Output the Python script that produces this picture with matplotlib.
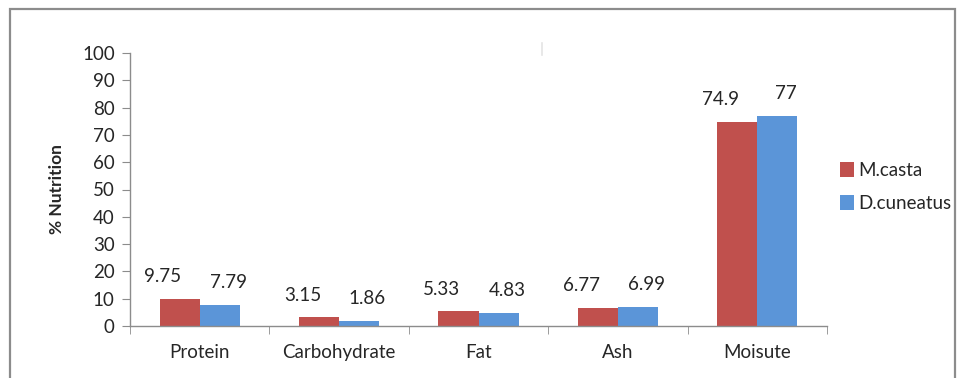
import numpy as np
import matplotlib.pyplot as plt
from matplotlib.patches import Rectangle
from matplotlib.lines import Line2D

categories = ["Protein", "Carbohydrate", "Fat", "Ash", "Moisute"]
m_casta = [9.75, 3.15, 5.33, 6.77, 74.9]
d_cuneatus = [7.79, 1.86, 4.83, 6.99, 77]
series_names = ["M.casta", "D.cuneatus"]
yticks = list(range(0, 101, 10))

red = "#C0504D"
blue = "#5B95D8"
grey = "#8C8C8C"
txt = "#262626"
fs = 13.5

plt.rcParams['font.family'] = ['Lato', 'DejaVu Sans']

fig = plt.figure(figsize=(9.64, 3.78), dpi=100)
ax = fig.add_axes([130 / 964, 1 - 326 / 378, 697 / 964, 273 / 378])

x = np.arange(len(categories))
w = 0.287
b1 = ax.bar(x - w / 2, m_casta, w, color=red, label=series_names[0])
b2 = ax.bar(x + w / 2, d_cuneatus, w, color=blue, label=series_names[1])

for rect, v in zip(b1, m_casta):
    ax.annotate(f"{v:g}", (rect.get_x() + rect.get_width() / 2, v),
                xytext=(-12, 10), textcoords="offset points",
                ha="center", va="bottom", fontsize=fs, color=txt)
for rect, v in zip(b2, d_cuneatus):
    ax.annotate(f"{v:g}", (rect.get_x() + rect.get_width() / 2, v),
                xytext=(6, 10), textcoords="offset points",
                ha="center", va="bottom", fontsize=fs, color=txt)

ax.set_xlim(-0.5, len(categories) - 0.5)
ax.set_ylim(0, 100)
ax.set_yticks(yticks)
ax.set_xticks(x)
ax.set_xticklabels(categories)
ax.set_xticks(np.arange(len(categories) + 1) - 0.5, minor=True)
ax.tick_params(axis="x", which="major", length=0, pad=13, labelsize=fs, labelcolor=txt)
ax.tick_params(axis="x", which="minor", length=6, color=grey, direction="out")
ax.tick_params(axis="y", length=6, color=grey, pad=5, labelsize=fs, labelcolor=txt)

for s in ["top", "right"]:
    ax.spines[s].set_visible(False)
for s in ["left", "bottom"]:
    ax.spines[s].set_color(grey)
    ax.spines[s].set_linewidth(1)

ax.set_ylabel("% Nutrition", fontsize=12.5, fontweight="bold", labelpad=12, color=txt)

ax.legend(loc="center left", bbox_to_anchor=(0.995, 0.51), frameon=False,
          fontsize=fs, handlelength=0.7, handleheight=0.9,
          handletextpad=0.25, labelspacing=0.85, labelcolor=txt)

# chart area border
fig.patches.append(Rectangle((10 / 964, -0.05), 945 / 964, 1.05 - 9 / 378,
                             transform=fig.transFigure, fill=False,
                             edgecolor=grey, linewidth=1.6))
# faint stray mark near the top
fig.lines.append(Line2D([542 / 964, 542 / 964], [1 - 43 / 378, 1 - 55 / 378],
                        transform=fig.transFigure, color="#E4E4E4", linewidth=1.2))

fig.savefig("out.png", dpi=100)
